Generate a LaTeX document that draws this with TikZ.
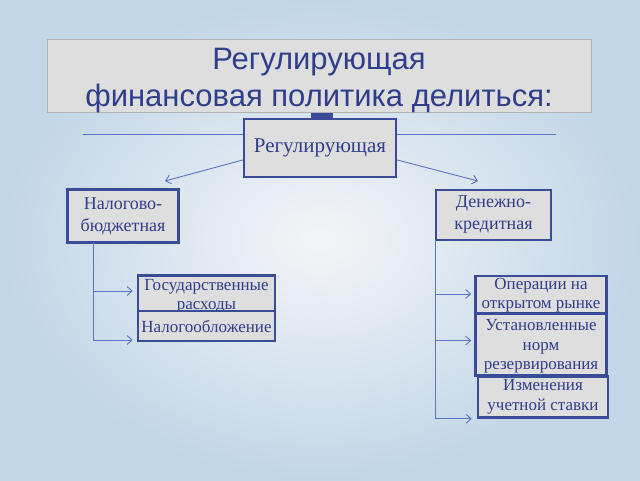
\documentclass[tikz,border=0pt]{standalone}
\usepackage{fontspec}
\setmainfont{Liberation Serif}
\newfontfamily\titlefont{Liberation Sans}
\usetikzlibrary{arrows.meta}
\definecolor{frameblue}{HTML}{3A4C98}
\definecolor{textblue}{HTML}{2F3E8C}
\definecolor{lineblue}{HTML}{5B74C4}
\definecolor{boxgray}{HTML}{DEDEDE}
\definecolor{bgout}{HTML}{C2D6E8}
\definecolor{bgin}{HTML}{F4F5F7}
\tikzset{
    box/.style={rectangle, draw=frameblue, line width=2.6pt, fill=boxgray,
        text=textblue, align=center, inner sep=1pt, font=\fontsize{17}{19.5}\selectfont},
    link/.style={draw=lineblue, line width=0.9pt, -{Straight Barb[length=5pt,width=9pt]}}
}
\begin{document}
\begin{tikzpicture}[x=1pt, y=-1pt]
    \useasboundingbox (0,0) rectangle (640,480);
    \shade[inner color=bgin, outer color=bgout] (0,0) rectangle (640,480);

    \node (titlebox) [rectangle, draw=gray!60, fill=boxgray, minimum width=544pt, minimum height=73pt] at (319,75.5) {};
    \node (title) [text=textblue, align=center, font=\titlefont\fontsize{31}{37}\selectfont] at (319,81)
        {Регулирующая\\финансовая политика делиться:};
    \node (mark) [rectangle, fill=frameblue, minimum width=22pt, minimum height=6pt, inner sep=0pt] at (321.5,116) {};

    \node (reg) [box, minimum width=152pt, minimum height=58pt, font=\fontsize{21}{24}\selectfont] at (320,148) {Регулирующая};
    \node (nal) [box, minimum width=111pt, minimum height=53pt, font=\fontsize{18}{22}\selectfont] at (123,216) {Налогово-\\бюджетная};
    \node (den) [box, minimum width=115pt, minimum height=50pt, font=\fontsize{18}{22}\selectfont] at (493.5,215) {Денежно-\\кредитная};

    \node (gos) [box, minimum width=137pt, anchor=north, inner ysep=4pt] at (206.5,274) {Государственные\\расходы};
    \node (nalog) [box, minimum width=137pt, minimum height=30pt] at (206.5,326) {Налогообложение};

    \node (oper) [box, minimum width=131pt, minimum height=38pt] at (541,295) {Операции на\\открытом рынке};
    \node (ust) [box, minimum width=131pt, minimum height=62pt, text depth=0pt] at (541,344.5) {Установленные\\норм\\резервирования};
    \node (izm) [box, minimum width=130pt, minimum height=41pt] at (543,397) {Изменения\\учетной ставки};

    % rules beside the top box
    \coordinate (ruleL) at (83,134);
    \coordinate (ruleR) at (556,134);
    \draw [lineblue, line width=0.9pt] (ruleL) -- (ruleL -| reg.west);
    \draw [lineblue, line width=0.9pt] (ruleR) -- (ruleR -| reg.east);

    % arrows to the two kinds
    \coordinate (tipL) at (165,181);
    \coordinate (tipR) at (478,181);
    \draw [link] ([yshift=-12pt]reg.west) -- (tipL);
    \draw [link] ([yshift=-12pt]reg.east) -- (tipR);

    % left branch
    \coordinate (trunkL) at (93,242);
    \draw [link, shorten >=4pt] (trunkL) |- (gos.west |- 0,291);
    \draw [link, shorten >=4pt] (trunkL) |- ([yshift=-14pt]nalog.west);

    % right branch
    \coordinate (trunkR) at (435,240);
    \draw [link, shorten >=3pt] (trunkR) |- ([yshift=1pt]oper.west);
    \draw [link, shorten >=3pt] (trunkR) |- ([yshift=4pt]ust.west);
    \draw [link, shorten >=5pt] (trunkR) |- (izm.south west);
\end{tikzpicture}
\end{document}
